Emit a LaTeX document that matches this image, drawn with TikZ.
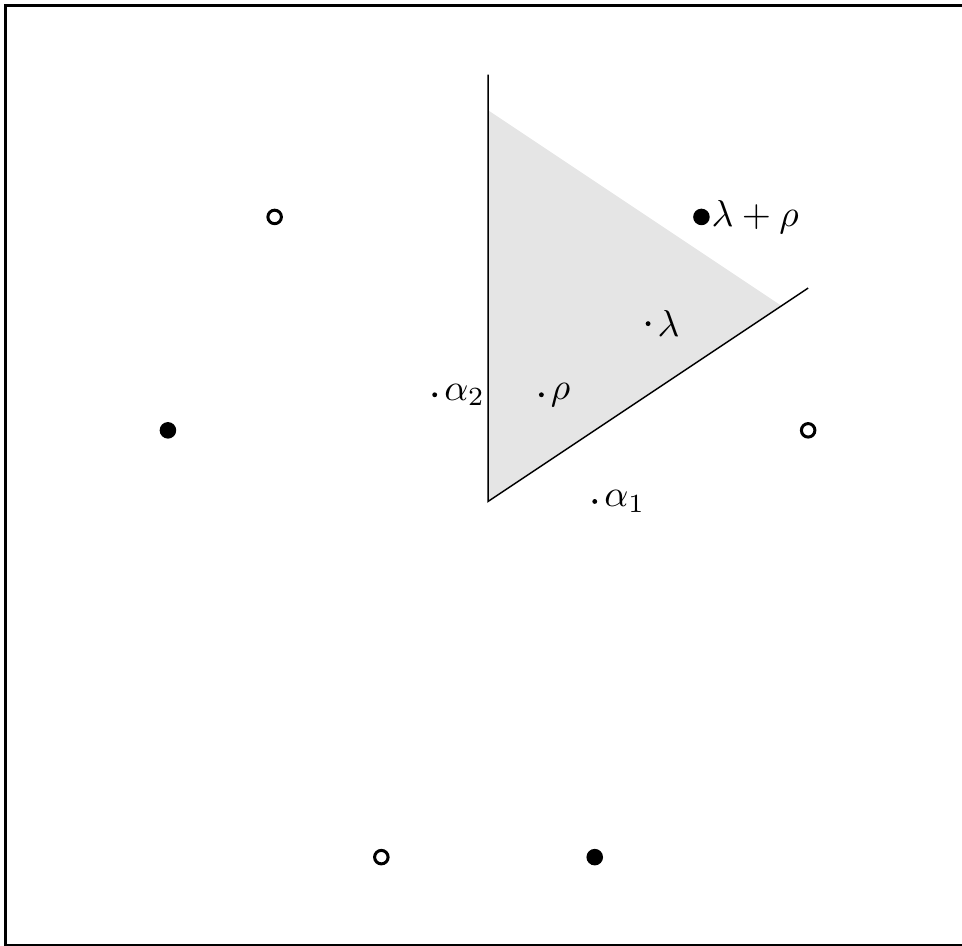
\documentclass[tikz,border=0pt]{standalone}
\usepackage{amsmath,amsfonts,amssymb}
\usepackage{xcolor}
\usepackage{tikz}
\usetikzlibrary{positioning}

\tikzset{
  wdot/.style={circle,draw,thick,inner sep=0pt,minimum size=3.6pt},
  evendot/.style={wdot,fill=black},
  odddot/.style={wdot,fill=white},
  sdot/.style={circle,fill,inner sep=0pt,minimum size=1.3pt},
  lbl/.style={inner sep=1.5pt}
}

\begin{document}
\begin{tikzpicture}[x=1cm,y=1cm,every node/.style={font=\fontsize{10.4pt}{12pt}\selectfont}]
\useasboundingbox (-4.574,-4.157) rectangle (4.442,4.700);
\draw[line width=0.8pt] (4.7,4.648) -- (-4.522,4.648) -- (-4.522,-4.162) -- (4.7,-4.162);

% dominant chamber and shaded region
\coordinate (O) at (0,0);
\coordinate (w1) at (3,2);
\coordinate (w2) at (0,4);
\fill[black!10] (O) -- (0,11/3) -- (2.75,11/6) -- cycle;
\draw (w2) -- (O) -- (w1);

% roots and weights
\node[sdot] (a1) at (1,0) {};
\node[sdot] (a2) at (-0.5,1) {};
\node[sdot] (rho) at (0.5,1) {};
\node[sdot] (lam) at (1.5,5/3) {};
\node[lbl,right=0pt of a1] {$\alpha_1$};
\node[lbl,right=0pt of a2] {$\alpha_2$};
\node[lbl,right=0pt of rho] {$\rho$};
\node[lbl,right=0pt of lam] {$\lambda$};

% Weyl orbit of lambda+rho
\node[evendot] (lamrho) at (2,8/3) {};
\node[evendot] (orb2) at (-3,2/3) {};
\node[evendot] (orb3) at (1,-10/3) {};
\node[odddot] (orb4) at (-2,8/3) {};
\node[odddot] (orb5) at (3,2/3) {};
\node[odddot] (orb6) at (-1,-10/3) {};
\node[inner sep=0.3pt,right=0pt of lamrho] {$\lambda+\rho$};
\end{tikzpicture}
\end{document}
